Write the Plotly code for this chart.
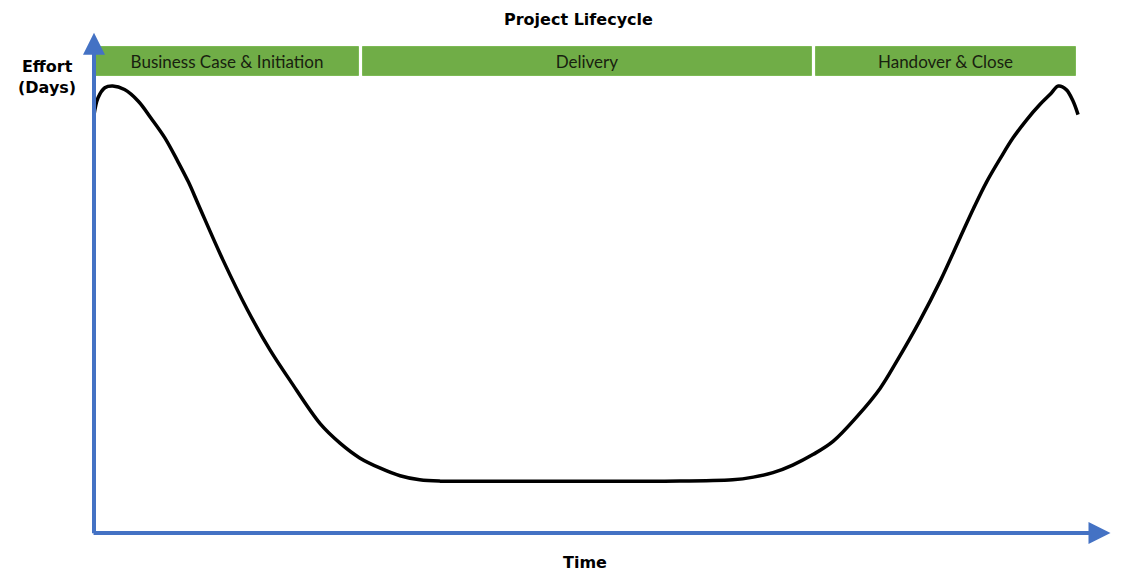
import plotly.graph_objects as go

# Effort curve over the project timeline (time 0-100, effort as % of peak)
time = [0, 0.4, 1.1, 1.9, 3.1, 4.5, 5.8, 7.2, 8.5, 9.6, 10.6, 13.1, 15.6, 17.9,
        19.9, 23.0, 25.0, 27.0, 29.1, 31.1, 33.1, 35.2, 42.0, 50.0, 58.0, 64.9,
        67.0, 69.0, 71.0, 73.1, 75.1, 77.6, 79.9, 81.6, 83.9, 86.0, 88.0, 89.4,
        90.7, 92.1, 93.4, 94.8, 96.1, 97.2, 98.0, 98.8, 99.5, 100]
effort = [93.5, 97.3, 99.6, 100, 99.2, 96.6, 92.8, 88.4, 83.2, 78.5, 73.5, 61.1,
          49.9, 40.9, 34.2, 24.4, 20.1, 16.8, 14.5, 12.8, 11.9, 11.6, 11.6, 11.6,
          11.6, 11.9, 12.5, 13.5, 15.2, 17.6, 20.5, 26.2, 32.4, 38.5, 47.4, 56.4,
          66.0, 72.7, 78.5, 83.8, 88.4, 92.5, 95.8, 98.2, 100, 99.2, 96.6, 93.6]

# Lifecycle phases
phases = ["Business Case &amp; Initiation", "Delivery", "Handover &amp; Close"]
phase_start = [0, 27.1, 73.2]
phase_end = [27.1, 73.2, 100]

AXIS_BLUE = "#4472C4"
GREEN = "#70AD47"
GAP = 0.2
BAND_MID = 105.45

fig = go.Figure()

# Phase band across the top
fig.add_trace(go.Bar(
    orientation="h",
    y=[BAND_MID] * len(phases),
    base=[s + GAP for s in phase_start],
    x=[e - s - 2 * GAP for s, e in zip(phase_start, phase_end)],
    width=6.5,
    marker=dict(color=GREEN, line=dict(color="#7DBA55", width=1)),
    text=phases,
    textposition="inside",
    insidetextanchor="middle",
    textfont=dict(family="Lato, Open Sans, sans-serif", size=17, color="#18210F"),
    hoverinfo="skip",
    showlegend=False,
))

# Effort curve
fig.add_trace(go.Scatter(
    x=time, y=effort, mode="lines",
    line=dict(color="black", width=3.5, shape="spline", smoothing=1.0,
              simplify=False),
    hoverinfo="skip", showlegend=False,
))

# Axis arrows
fig.add_annotation(x=103.3, y=0, ax=-0.2, ay=0, xref="x", yref="y",
                   axref="x", ayref="y", showarrow=True, arrowhead=2,
                   arrowsize=1.1, arrowwidth=4, arrowcolor=AXIS_BLUE, text="",
                   standoff=0, startstandoff=0)
fig.add_annotation(x=0, y=111.9, ax=0, ay=-0.4, xref="x", yref="y",
                   axref="x", ayref="y", showarrow=True, arrowhead=2,
                   arrowsize=1.1, arrowwidth=4, arrowcolor=AXIS_BLUE, text="",
                   standoff=0, startstandoff=0)

BOLD = dict(family="DejaVu Sans, sans-serif", size=16, color="black")
fig.add_annotation(x=578 / 1148, y=1 - 20 / 586, xref="paper", yref="paper",
                   xanchor="center", yanchor="middle",
                   text="<b>Project Lifecycle</b>", showarrow=False, font=BOLD)
fig.add_annotation(x=47 / 1148, y=1 - 77 / 586, xref="paper", yref="paper",
                   xanchor="center", yanchor="middle",
                   text="<b>Effort<br>(Days)</b>", showarrow=False, font=BOLD,
                   align="center")
fig.add_annotation(x=585 / 1148, y=1 - 562 / 586, xref="paper", yref="paper",
                   xanchor="center", yanchor="middle",
                   text="<b>Time</b>", showarrow=False, font=BOLD)

fig.update_xaxes(range=[-9.553, 107.11], visible=False, fixedrange=True)
fig.update_yaxes(range=[-11.857, 119.24], visible=False, fixedrange=True)
fig.update_layout(
    width=1148, height=586,
    margin=dict(l=0, r=0, t=0, b=0),
    plot_bgcolor="white", paper_bgcolor="white",
    bargap=0,
)

fig.write_html("out.html")
